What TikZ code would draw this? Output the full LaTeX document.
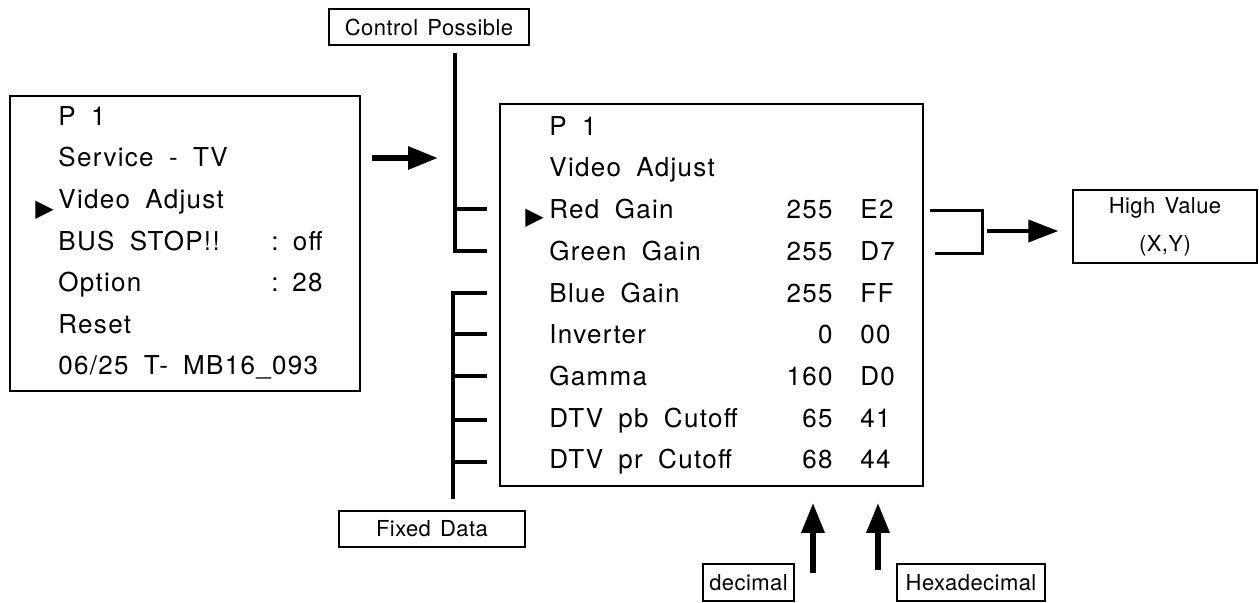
\documentclass[tikz,border=0pt]{standalone}
\usepackage{fontspec}
\setmainfont{TeX Gyre Heros}
\newfontfamily\menufont[LetterSpace=5,WordSpace=1.8]{TeX Gyre Heros}
\newfontfamily\labelfont[LetterSpace=2,WordSpace=1.4]{TeX Gyre Heros}
\newfontfamily\symfont{DejaVu Sans}
\usetikzlibrary{arrows.meta,calc}

\begin{document}
\begin{tikzpicture}[x=0.5pt,y=-0.5pt,
  menu box/.style={draw,line width=0.8pt,inner sep=0pt},
  label box/.style={draw,line width=0.7pt,inner sep=0pt,font=\labelfont\fontsize{11}{19}\selectfont},
  menu text/.style={inner sep=0pt,font=\menufont\fontsize{13}{15}\selectfont},
  pointer/.style={inner sep=0pt,font=\symfont\fontsize{12}{12}\selectfont},
  bar/.style={line width=2pt},
  big arrow/.style={line width=3pt,-{Triangle[length=15pt,width=11pt]}}]

\useasboundingbox (0,0) rectangle (1259,602);

% the two menu screens
\node[menu box,minimum width=175pt,minimum height=147.5pt] (service) at (185,243.5) {};
\node[menu box,minimum width=211.5pt,minimum height=191pt] (video) at (711.5,295) {};

\foreach \t [count=\i from 0] in {P 1,Service - TV,Video Adjust,BUS STOP!!,Option,Reset,06/25 T- MB16\_093}
  \node[menu text,anchor=mid west] (s\i) at (58,{120+41.6*\i}) {\t};
\node[pointer,anchor=west] at (35,{127+41.6*2}) {▶};
\node[menu text,anchor=mid] (s3c) at (275,{120+41.6*3}) {:};
\node[menu text,anchor=mid east] (s3v) at (323,{120+41.6*3}) {off};
\node[menu text,anchor=mid] (s4c) at (275,{120+41.6*4}) {:};
\node[menu text,anchor=mid east] (s4v) at (323,{120+41.6*4}) {28};

\node[menu text,anchor=mid west] (r0) at (549,130) {P 1};
\node[menu text,anchor=mid west] (r1) at (549,171.7) {Video Adjust};
\foreach \t/\d/\h [count=\i from 2] in {Red Gain/255/E2,Green Gain/255/D7,Blue Gain/255/FF,
    Inverter/0/00,Gamma/160/D0,DTV pb Cutoff/65/41,DTV pr Cutoff/68/44}{
  \node[menu text,anchor=mid west] (r\i) at (549,{130+41.7*\i}) {\t};
  \node[menu text,anchor=mid east] (d\i) at (833,{130+41.7*\i}) {\d};
  \node[menu text,anchor=mid west] (h\i) at (860,{130+41.7*\i}) {\h};
}
\node[pointer,anchor=west] at (525,{135+41.7*2}) {▶};

% labels
\node[label box,minimum width=100pt,minimum height=18pt] (ctrl) at (429,27) {Control Possible};
\node[label box,minimum width=93pt,minimum height=18pt] (fixed) at (432,529) {Fixed Data};
\node[label box,minimum width=45.5pt,minimum height=18.5pt] (dec) at (748.5,582.5) {decimal};
\node[label box,minimum width=74pt,minimum height=18.5pt] (hex) at (971,582.5) {Hexadecimal};
\node[label box,minimum width=92pt,minimum height=36.5pt,align=center] (high) at (1165,226.5) {High Value\\(X,Y)};

% brackets
\coordinate (cp top) at (455,53);
\coordinate (cp end) at (487,0);
\draw[bar] (cp top) |- (cp end |- r3);
\draw[bar] (cp top |- r2) -- (cp end |- r2);

\coordinate (fd bottom) at (453,499);
\draw[bar] (fd bottom) |- (cp end |- r4);
\foreach \i in {5,6,7,8}
  \draw[bar] (fd bottom |- r\i) -- (cp end |- r\i);

\coordinate (hv top) at (930,210);
\coordinate (hv bot) at (935,253);
\coordinate (hv side) at (982,0);
\coordinate (hv out) at (987,231);
\draw[line width=1.5pt] (hv top) -| (hv side |- hv bot) -- (hv bot);

% arrows
\coordinate (go) at (372,158);
\draw[big arrow] (go) -- (438,158);
\draw[big arrow,line width=2pt,shorten >=7pt] (hv out) -- (high.west |- hv out);
\coordinate (dec tail) at (813,573);
\coordinate (hex tail) at (878,570);
\draw[big arrow,shorten >=8pt] (dec tail) -- (dec tail |- video.south);
\draw[big arrow,shorten >=8pt] (hex tail) -- (hex tail |- video.south);
\end{tikzpicture}
\end{document}
